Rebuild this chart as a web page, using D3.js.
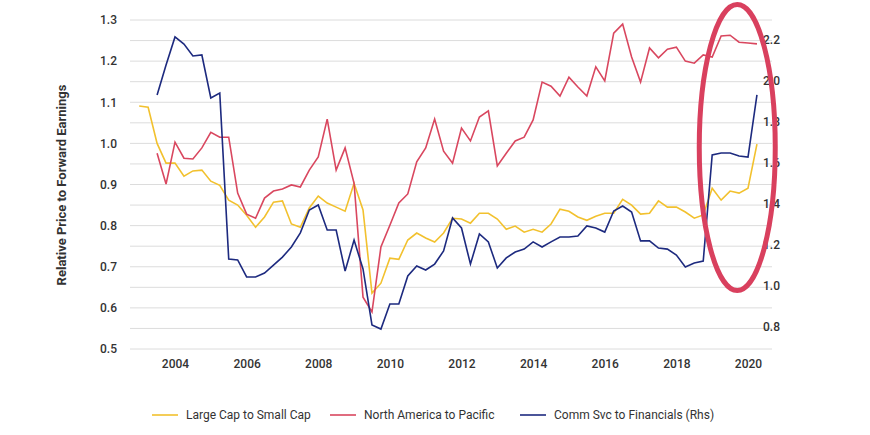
<!DOCTYPE html>
<html><head><meta charset="utf-8">
<script src="https://cdn.jsdelivr.net/npm/d3@7"></script>
<style>body{margin:0;background:#fff;font-family:Roboto,"Noto Sans",sans-serif}</style>
</head><body><svg id="c" width="870" height="435"></svg>
<script>
const largeSmallStart = 2003.0;
const largeSmall = [1.091,1.088,1.0,0.952,0.952,0.92,0.933,0.935,0.908,0.898,0.862,0.85,0.825,0.796,0.821,0.857,0.86,0.804,0.796,0.843,0.872,0.855,0.845,0.835,0.903,0.838,0.636,0.66,0.721,0.718,0.765,0.782,0.77,0.76,0.782,0.818,0.816,
0.806,0.830,0.830,0.816,0.791,0.799,0.784,0.791,0.784,0.804,0.840,0.835,0.821,0.813,0.823,0.830,0.830,0.864,0.850,0.828,0.830,0.860,0.845,0.845,0.833,0.818,0.826,0.891,0.862,0.884,0.879,0.891,0.998];
const naPacStart = 2003.5;
const naPac = [0.976,0.901,1.003,0.964,0.962,0.989,1.027,1.015,1.015,0.879,0.828,0.818,0.867,0.884,0.889,0.899,0.894,0.935,0.967,1.059,0.935,0.989,0.903,0.626,0.590,0.748,0.801,0.855,0.877,0.955,0.989,1.059,0.981,0.952,1.037,
1.006,1.064,1.079,0.945,0.976,1.006,1.015,1.057,1.149,1.139,1.115,1.161,1.137,1.115,1.186,1.152,1.268,1.290,1.210,1.149,1.232,1.208,1.229,1.234,1.200,1.195,1.215,1.210,1.261,1.263,1.246,1.244,1.242];
const commFinStart = 2003.5;
const commFin = [1.932,2.078,2.215,2.180,2.122,2.127,1.917,1.941,1.132,1.127,1.044,1.044,1.063,1.102,1.141,1.190,1.259,1.371,1.395,1.273,1.273,1.073,1.224,1.083,0.810,0.790,0.912,0.912,1.049,1.098,1.078,1.107,1.171,1.332,1.283,
1.107,1.254,1.215,1.088,1.137,1.166,1.180,1.215,1.190,1.215,1.239,1.239,1.244,1.293,1.283,1.263,1.366,1.390,1.361,1.220,1.220,1.185,1.180,1.151,1.093,1.112,1.122,1.639,1.649,1.649,1.634,1.629,1.932];
const yearTicks = [2004,2006,2008,2010,2012,2014,2016,2018,2020];
const leftTicks = [0.5,0.6,0.7,0.8,0.9,1.0,1.1,1.2,1.3];
const rightTicks = [0.8,1.0,1.2,1.4,1.6,1.8,2.0,2.2];
const seriesNames = ["Large Cap to Small Cap","North America to Pacific","Comm Svc to Financials (Rhs)"];
const colors = ["#f2c12e","#d9475f","#1d2a7f"];

const svg = d3.select("#c");
const x = d3.scaleLinear().domain([2004,2020]).range([175,748]);
const yL = d3.scaleLinear().domain([0.5,1.3]).range([349,20]);
const yR = d3.scaleLinear().domain([0.8,2.2]).range([327,40]);

svg.append("g").selectAll("line").data(d3.range(0.5,1.3001,0.05)).join("line")
  .attr("x1",130).attr("x2",772).attr("y1",d=>yL(d)).attr("y2",d=>yL(d))
  .attr("stroke","#dcdcdc").attr("stroke-width",1);

const gl = svg.append("g").attr("transform","translate(120,0)")
  .call(d3.axisLeft(yL).tickValues(leftTicks).tickFormat(d3.format(".1f")).tickSize(0));
const gr = svg.append("g").attr("transform","translate(760,0)")
  .call(d3.axisRight(yR).tickValues(rightTicks).tickFormat(d3.format(".1f")).tickSize(0));
const gx = svg.append("g").attr("transform","translate(0,349)")
  .call(d3.axisBottom(x).tickValues(yearTicks).tickFormat(d3.format("d")).tickSize(0));
[gl,gr,gx].forEach(g=>{g.select(".domain").remove();
  g.selectAll("text").attr("font-family","Roboto,sans-serif").attr("font-size",12).attr("font-weight",500).attr("fill","#333");});
gx.selectAll("text").attr("dy","1.3em");

svg.append("text").attr("transform","translate(66,185) rotate(-90)").attr("text-anchor","middle")
  .attr("font-size",13).attr("font-weight",700).attr("fill","#333").text("Relative Price to Forward Earnings");

function draw(data,start,y,color){
  const line = d3.line().x((d,i)=>x(start+i*0.25)).y(d=>y(d));
  svg.append("path").datum(data).attr("d",line).attr("fill","none").attr("stroke",color).attr("stroke-width",1.6);
}
draw(largeSmall,largeSmallStart,yL,colors[0]);
draw(naPac,naPacStart,yL,colors[1]);
draw(commFin,commFinStart,yR,colors[2]);

svg.append("ellipse").attr("cx",x(2019.7)).attr("cy",yL(0.99)).attr("rx",38).attr("ry",143)
  .attr("fill","none").attr("stroke","#d9405e").attr("stroke-width",5);

const lx = [152,330,520];
seriesNames.forEach((n,i)=>{
  svg.append("line").attr("x1",lx[i]).attr("x2",lx[i]+26).attr("y1",415).attr("y2",415).attr("stroke",colors[i]).attr("stroke-width",1.6);
  svg.append("text").attr("x",lx[i]+34).attr("y",419).attr("font-size",12).attr("fill","#333").text(n);
});
</script></body></html>
